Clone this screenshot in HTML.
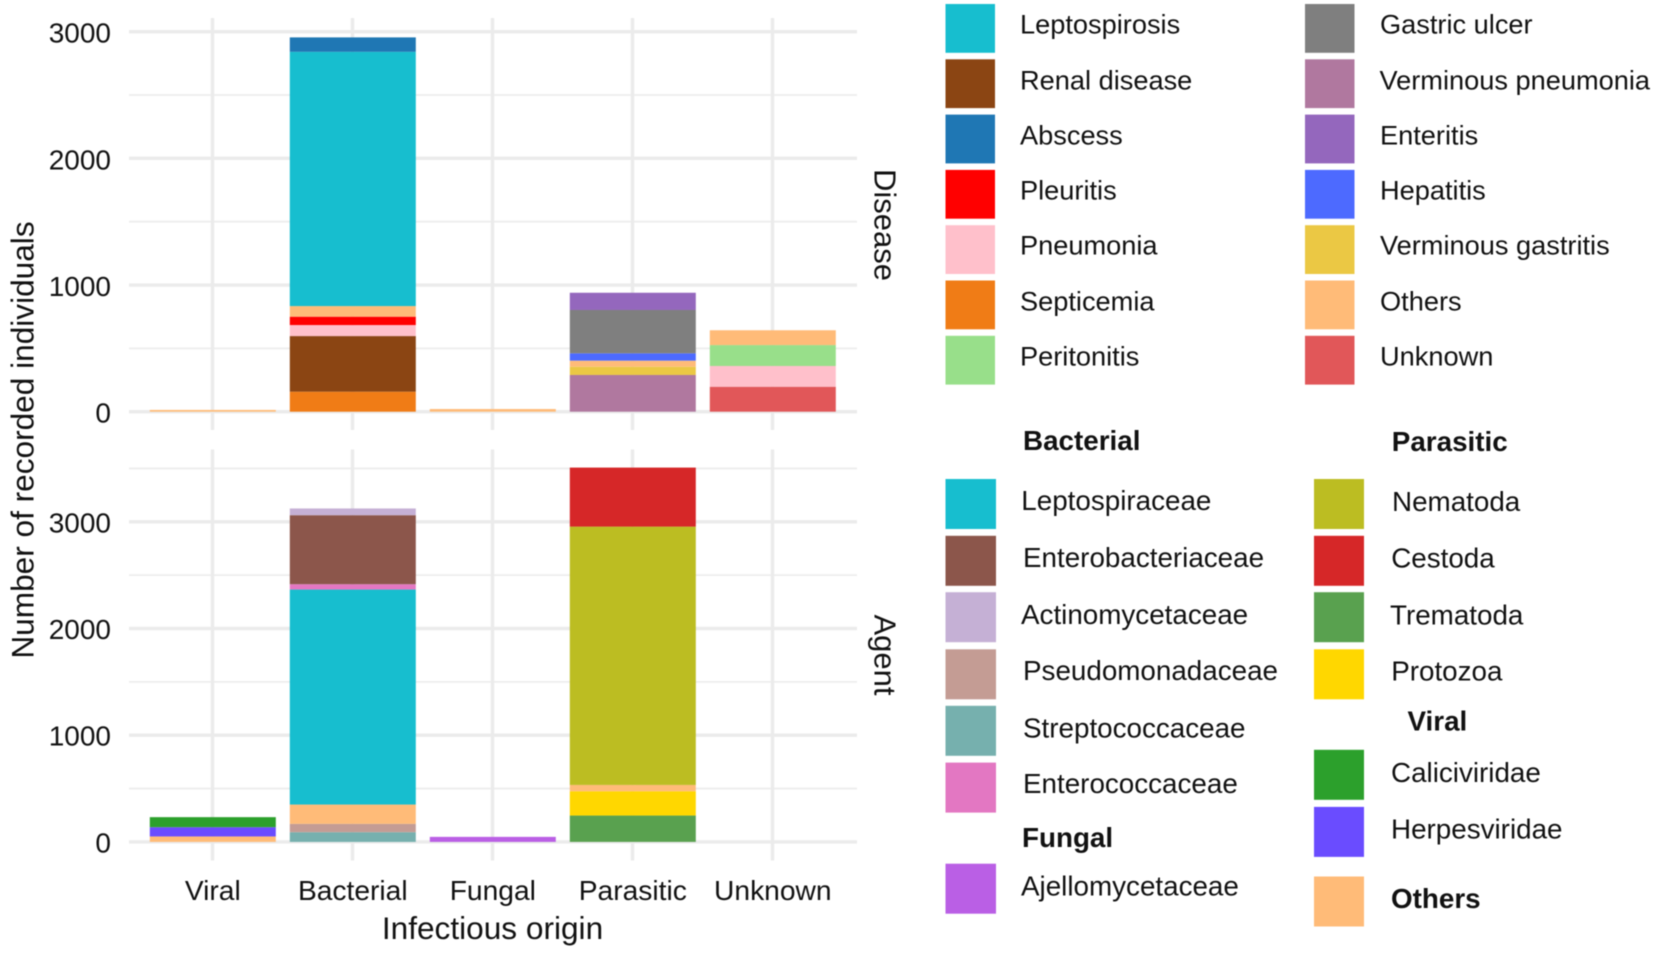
<!DOCTYPE html>
<html lang="en">
<head>
<meta charset="utf-8">
<title>Recorded individuals by infectious origin</title>
<style>
html,body{margin:0;padding:0;background:#fff;width:1654px;height:955px;overflow:hidden}
svg{display:block;filter:blur(0.45px)}
text{font-family:"Liberation Sans",Arial,sans-serif;fill:#111;dominant-baseline:central}
.lg{font-size:27.2px}
.lb{font-size:27.8px}
.b{font-weight:bold}
</style>
</head>
<body>
<svg id="chart" xmlns="http://www.w3.org/2000/svg" width="1654" height="955" viewBox="0 0 1654 955">
  <g id="plot"></g>
  <text transform="translate(22.5 440) rotate(-90)" text-anchor="middle" font-size="31.6">Number of recorded individuals</text>
  <text x="492.5" y="928" text-anchor="middle" font-size="31.6">Infectious origin</text>
  <text transform="translate(885 225) rotate(90)" text-anchor="middle" font-size="31">Disease</text>
  <text transform="translate(885 655) rotate(90)" text-anchor="middle" font-size="31">Agent</text>

  <g>
    <g><rect x="945.5" y="4" width="49.5" height="48.8" fill="#17BECF"/><text class="lg" x="1020" y="24">Leptospirosis</text></g>
    <g><rect x="945.5" y="59.3" width="49.5" height="48.8" fill="#8B4513"/><text class="lg" x="1020" y="80">Renal disease</text></g>
    <g><rect x="945.5" y="114.6" width="49.5" height="48.8" fill="#1F77B4"/><text class="lg" x="1020" y="135">Abscess</text></g>
    <g><rect x="945.5" y="169.9" width="49.5" height="48.8" fill="#FF0000"/><text class="lg" x="1020" y="190">Pleuritis</text></g>
    <g><rect x="945.5" y="225.2" width="49.5" height="48.8" fill="#FFC0CB"/><text class="lg" x="1020" y="245">Pneumonia</text></g>
    <g><rect x="945.5" y="280.5" width="49.5" height="48.8" fill="#F07C16"/><text class="lg" x="1020" y="301">Septicemia</text></g>
    <g><rect x="945.5" y="335.8" width="49.5" height="48.8" fill="#98DF8A"/><text class="lg" x="1020" y="356">Peritonitis</text></g>

    <g><rect x="1305" y="4" width="49.5" height="48.8" fill="#7F7F7F"/><text class="lg" x="1380" y="24">Gastric ulcer</text></g>
    <g><rect x="1305" y="59.3" width="49.5" height="48.8" fill="#B0789F"/><text class="lg" x="1379.5" y="80">Verminous pneumonia</text></g>
    <g><rect x="1305" y="114.6" width="49.5" height="48.8" fill="#9467BD"/><text class="lg" x="1380" y="135">Enteritis</text></g>
    <g><rect x="1305" y="169.9" width="49.5" height="48.8" fill="#4D6AFF"/><text class="lg" x="1380" y="190">Hepatitis</text></g>
    <g><rect x="1305" y="225.2" width="49.5" height="48.8" fill="#EBC844"/><text class="lg" x="1380" y="245">Verminous gastritis</text></g>
    <g><rect x="1305" y="280.5" width="49.5" height="48.8" fill="#FFBB78"/><text class="lg" x="1380" y="301">Others</text></g>
    <g><rect x="1305" y="335.8" width="49.5" height="48.8" fill="#E15759"/><text class="lg" x="1380" y="356">Unknown</text></g>
  </g>

  <g>
    <text class="lb b" x="1023" y="440.4">Bacterial</text>
    <g><rect x="945.5" y="479" width="50.5" height="50" fill="#17BECF"/><text class="lb" x="1021.3" y="500.6">Leptospiraceae</text></g>
    <g><rect x="945.5" y="535.8" width="50.5" height="50" fill="#8C564B"/><text class="lb" x="1023" y="557.4">Enterobacteriaceae</text></g>
    <g><rect x="945.5" y="592.2" width="50.5" height="50" fill="#C5B0D5"/><text class="lb" x="1021" y="614.5">Actinomycetaceae</text></g>
    <g><rect x="945.5" y="649.3" width="50.5" height="50" fill="#C49C94"/><text class="lb" x="1023" y="670.3">Pseudomonadaceae</text></g>
    <g><rect x="945.5" y="705.8" width="50.5" height="50" fill="#76B0AE"/><text class="lb" x="1023" y="727.8">Streptococcaceae</text></g>
    <g><rect x="945.5" y="762.6" width="50.5" height="50" fill="#E377C2"/><text class="lb" x="1023" y="783.6">Enterococcaceae</text></g>
    <text class="lb b" x="1022" y="837.7">Fungal</text>
    <g><rect x="945.5" y="863.7" width="50.5" height="50" fill="#BA5FE5"/><text class="lb" x="1021" y="886">Ajellomycetaceae</text></g>

    <text class="lb b" x="1391.8" y="441.4">Parasitic</text>
    <g><rect x="1314" y="479" width="50" height="50" fill="#BCBD22"/><text class="lb" x="1392" y="501.3">Nematoda</text></g>
    <g><rect x="1314" y="535.8" width="50" height="50" fill="#D62728"/><text class="lb" x="1391.2" y="558">Cestoda</text></g>
    <g><rect x="1314" y="592.2" width="50" height="50" fill="#59A14F"/><text class="lb" x="1390" y="615.2">Trematoda</text></g>
    <g><rect x="1314" y="649.3" width="50" height="50" fill="#FFD700"/><text class="lb" x="1391.2" y="671">Protozoa</text></g>
    <text class="lb b" x="1407.5" y="721">Viral</text>
    <g><rect x="1314" y="749.8" width="50" height="50" fill="#2CA02C"/><text class="lb" x="1391" y="772.4">Caliciviridae</text></g>
    <g><rect x="1314" y="806.9" width="50" height="50" fill="#6A4CFF"/><text class="lb" x="1391" y="829.2">Herpesviridae</text></g>
    <g><rect x="1314" y="876.5" width="50" height="50" fill="#FFBB78"/><text class="lb b" x="1391" y="898.5">Others</text></g>
  </g>
</svg>
<script>
// Shared axis data
const categories = ["Viral", "Bacterial", "Fungal", "Parasitic", "Unknown"];
const yMajorTicks = [0, 1000, 2000, 3000];
const diseaseMinorTicks = [500, 1500, 2500];
const agentMinorTicks = [500, 1500, 2500, 3500];

// Disease panel: recorded individuals per category (Viral, Bacterial, Fungal, Parasitic, Unknown)
const dSepticemia = [0, 158, 0, 0, 0];
const dRenalDisease = [0, 439, 0, 0, 0];
const dUnknown = [0, 0, 0, 0, 197];
const dVerminousPneumonia = [0, 0, 0, 290, 0];
const dVerminousGastritis = [0, 0, 0, 65, 0];
const dPneumonia = [0, 87, 0, 0, 164];
const dPleuritis = [0, 66, 0, 0, 0];
const dPeritonitis = [0, 0, 0, 0, 165];
const dOthers = [14, 84, 21, 48, 117];
const dLeptospirosis = [0, 2007, 0, 0, 0];
const dAbscess = [0, 114, 0, 0, 0];
const dHepatitis = [0, 0, 0, 58, 0];
const dGastricUlcer = [0, 0, 0, 342, 0];
const dEnteritis = [0, 0, 0, 136, 0];

// Agent panel: recorded individuals per category
const aStreptococcaceae = [0, 91, 0, 0, 0];
const aPseudomonadaceae = [0, 78, 0, 0, 0];
const aTrematoda = [0, 0, 0, 247, 0];
const aProtozoa = [0, 0, 0, 228, 0];
const aOthers = [51, 181, 0, 59, 0];
const aHerpesviridae = [87, 0, 0, 0, 0];
const aCaliciviridae = [94, 0, 0, 0, 0];
const aAjellomycetaceae = [0, 0, 47, 0, 0];
const aLeptospiraceae = [0, 2015, 0, 0, 0];
const aEnterococcaceae = [0, 50, 0, 0, 0];
const aEnterobacteriaceae = [0, 647, 0, 0, 0];
const aActinomycetaceae = [0, 63, 0, 0, 0];
const aNematoda = [0, 0, 0, 2421, 0];
const aCestoda = [0, 0, 0, 553, 0];

// Stack order, bottom to top
const diseaseStack = [
  ["septicemia", "#F07C16", dSepticemia],
  ["renal-disease", "#8B4513", dRenalDisease],
  ["unknown", "#E15759", dUnknown],
  ["verminous-pneumonia", "#B0789F", dVerminousPneumonia],
  ["verminous-gastritis", "#EBC844", dVerminousGastritis],
  ["pneumonia", "#FFC0CB", dPneumonia],
  ["pleuritis", "#FF0000", dPleuritis],
  ["peritonitis", "#98DF8A", dPeritonitis],
  ["others", "#FFBB78", dOthers],
  ["leptospirosis", "#17BECF", dLeptospirosis],
  ["abscess", "#1F77B4", dAbscess],
  ["hepatitis", "#4D6AFF", dHepatitis],
  ["gastric-ulcer", "#7F7F7F", dGastricUlcer],
  ["enteritis", "#9467BD", dEnteritis]
];
const agentStack = [
  ["streptococcaceae", "#76B0AE", aStreptococcaceae],
  ["pseudomonadaceae", "#C49C94", aPseudomonadaceae],
  ["trematoda", "#59A14F", aTrematoda],
  ["protozoa", "#FFD700", aProtozoa],
  ["others", "#FFBB78", aOthers],
  ["herpesviridae", "#6A4CFF", aHerpesviridae],
  ["caliciviridae", "#2CA02C", aCaliciviridae],
  ["ajellomycetaceae", "#BA5FE5", aAjellomycetaceae],
  ["leptospiraceae", "#17BECF", aLeptospiraceae],
  ["enterococcaceae", "#E377C2", aEnterococcaceae],
  ["enterobacteriaceae", "#8C564B", aEnterobacteriaceae],
  ["actinomycetaceae", "#C5B0D5", aActinomycetaceae],
  ["nematoda", "#BCBD22", aNematoda],
  ["cestoda", "#D62728", aCestoda]
];

const NS = "http://www.w3.org/2000/svg";
const plot = document.getElementById("plot");
const panelLeft = 129, panelRight = 857, catStart = 212.8, catStep = 140;
const barWidth = 126;
const xScale = function (i) { return catStart + catStep * i; };
const yDisease = function (v) { return 411.7 - v * 0.12667; };
const yAgent = function (v) { return 841.9 - v * 0.1067; };

function svgEl(tag, attrs) {
  const el = document.createElementNS(NS, tag);
  for (const k in attrs) el.setAttribute(k, attrs[k]);
  plot.appendChild(el);
  return el;
}

function drawPanel(panelName, yFn, minorTicks, top, bottom, stack, labelDy) {
  minorTicks.forEach(function (t) {
    const line = svgEl("line", { x1: panelLeft, x2: panelRight, y1: yFn(t), y2: yFn(t), stroke: "#ededed", "stroke-width": 1.8 });
    
    
  });
  yMajorTicks.forEach(function (t) {
    const line = svgEl("line", { x1: panelLeft, x2: panelRight, y1: yFn(t), y2: yFn(t), stroke: "#ebebeb", "stroke-width": 3.4 });
    
    
    const label = svgEl("text", { x: 111, y: yFn(t) + labelDy, "text-anchor": "end", "font-size": 28 });
    label.textContent = String(t);
    
    
  });
  categories.forEach(function (c, i) {
    const line = svgEl("line", { x1: xScale(i) - 0.3, x2: xScale(i) - 0.3, y1: top, y2: bottom, stroke: "#ebebeb", "stroke-width": 3.4 });
    
    
  });
  categories.forEach(function (c, i) {
    let base = 0;
    stack.forEach(function (s) {
      const v = s[2][i];
      if (!v) return;
      const y1 = yFn(base + v), y0 = yFn(base);
      const bar = svgEl("rect", { x: xScale(i) - barWidth / 2, y: y1, width: barWidth, height: y0 - y1, fill: s[1] });
      
      
      base += v;
    });
  });
}

drawPanel("disease", yDisease, diseaseMinorTicks, 18, 430, diseaseStack, 1.5);
drawPanel("agent", yAgent, agentMinorTicks, 449.5, 860.5, agentStack, 1);

categories.forEach(function (c, i) {
  const label = svgEl("text", { x: xScale(i), y: 890, "text-anchor": "middle", "font-size": 28.2 });
  label.textContent = c;
  
  
});
</script>
</body>
</html>
